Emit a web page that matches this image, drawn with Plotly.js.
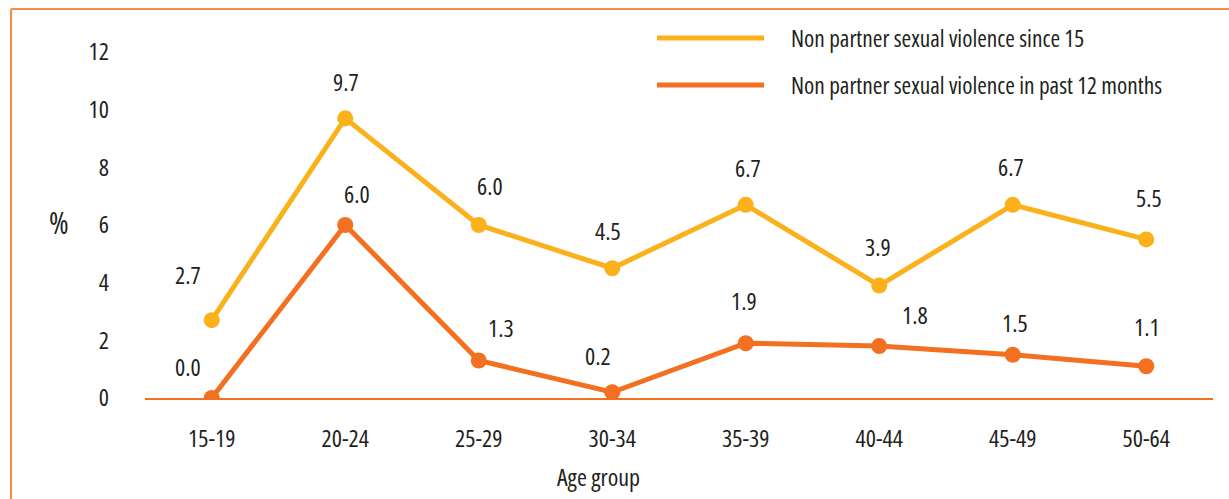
<!DOCTYPE html>
<html>
<head>
<meta charset="utf-8">
<script src="https://cdn.plot.ly/plotly-3.0.1.min.js"></script>
<style>
  body { margin: 0; background: #fff; }
  #grafico { width: 1229px; height: 499px; }
  /* fonte condensada, parecida com a original (vale tambem p/ o medidor do plotly) */
  text, tspan { font-stretch: 75% !important; }
</style>
</head>
<body>
<div id="grafico"></div>
<script>
// dados
var faixas = ["15-19", "20-24", "25-29", "30-34", "35-39", "40-44", "45-49", "50-64"];
var desde15 = [2.7, 9.7, 6.0, 4.5, 6.7, 3.9, 6.7, 5.5];
var ultimos12 = [0.0, 6.0, 1.3, 0.2, 1.9, 1.8, 1.5, 1.1];
var nomes = ["Non partner sexual violence since 15", "Non partner sexual violence in past 12 months"];
var yTicks = [0, 2, 4, 6, 8, 10, 12];

// deslocamento dos rotulos (px) [dx, dy]
var offAmarelo = [[-24, 46], [1, 37], [11, 40], [-4, 38], [2, 37], [-1, 39], [-2, 38], [3, 42]];
var offLaranja = [[-24, 32], [12, 32], [22, 33], [-14, 37], [-2, 43], [36, 32], [2, 32], [1, 40]];

var amarelo = "#FBB11B";
var laranja = "#F37021";
var texto = "#231F20";
var fonte = "'Open Sans', sans-serif";
var tam = 24;

// margens do plot em px
var L = 145, R = 16, T = 52, B = 101, W = 1229, H = 499;
function px(x) { return (x - L) / (W - L - R); }
function py(y) { return (H - B - y) / (H - T - B); }

var data = [
    {x: faixas, y: desde15, name: nomes[0], mode: "lines+markers",
     line: {color: amarelo, width: 5}, marker: {color: amarelo, size: 16}},
    {x: faixas, y: ultimos12, name: nomes[1], mode: "lines+markers",
     line: {color: laranja, width: 5}, marker: {color: laranja, size: 16}}
];

var anotacoes = [];
function rotulos(vals, off) {
    for (var i = 0; i < vals.length; i++) {
        anotacoes.push({x: faixas[i], y: vals[i], text: vals[i].toFixed(1), showarrow: false,
            xanchor: "center", yanchor: "middle",
            xshift: off[i][0], yshift: off[i][1], font: {size: tam, color: texto}});
    }
}
rotulos(desde15, offAmarelo);
rotulos(ultimos12, offLaranja);

// legenda feita a mao
var shapes = [];
var cores = [amarelo, laranja];
var legY = [38, 85];
for (var k = 0; k < nomes.length; k++) {
    shapes.push({type: "line", xref: "paper", yref: "paper", x0: px(657), x1: px(764),
        y0: py(legY[k]), y1: py(legY[k]), line: {color: cores[k], width: 5}});
    anotacoes.push({xref: "paper", yref: "paper", x: px(789), y: py(legY[k]),
        xanchor: "left", yanchor: "middle",
        showarrow: false, text: nomes[k], font: {size: 23.3, color: texto}});
}
// titulos
anotacoes.push({xref: "paper", yref: "paper", x: px(598), y: py(476), showarrow: false,
    xanchor: "center", yanchor: "middle", text: "Age group", font: {size: tam, color: texto}});
anotacoes.push({xref: "paper", yref: "paper", x: px(59), y: py(222), showarrow: false,
    xanchor: "center", yanchor: "middle", text: "%", font: {size: 30, color: texto}});

// moldura laranja
shapes.push({type: "line", xref: "paper", yref: "paper", x0: px(11), x1: px(1240),
    y0: py(9), y1: py(9), line: {color: "#F58B4C", width: 2}});
shapes.push({type: "line", xref: "paper", yref: "paper", x0: px(11), x1: px(11),
    y0: py(9), y1: py(510), line: {color: "#F58B4C", width: 2}});

var layout = {
    width: W, height: H,
    margin: {l: L, r: R, t: T, b: B},
    paper_bgcolor: "#fff", plot_bgcolor: "#fff",
    showlegend: false,
    font: {family: fonte, size: tam, color: texto},
    xaxis: {type: "category", range: [-0.5, 7.5], showgrid: false, zeroline: false,
        showline: true, linecolor: laranja, linewidth: 1.5, ticks: "", ticklabelstandoff: 18,
        tickfont: {size: tam, color: texto}},
    yaxis: {range: [0, 12], tickvals: yTicks, showgrid: false, zeroline: false,
        showline: false, ticks: "", ticklabelstandoff: 35, tickfont: {size: tam, color: texto}},
    shapes: shapes,
    annotations: anotacoes
};

Plotly.newPlot("grafico", data, layout, {displayModeBar: false});
</script>
</body>
</html>
